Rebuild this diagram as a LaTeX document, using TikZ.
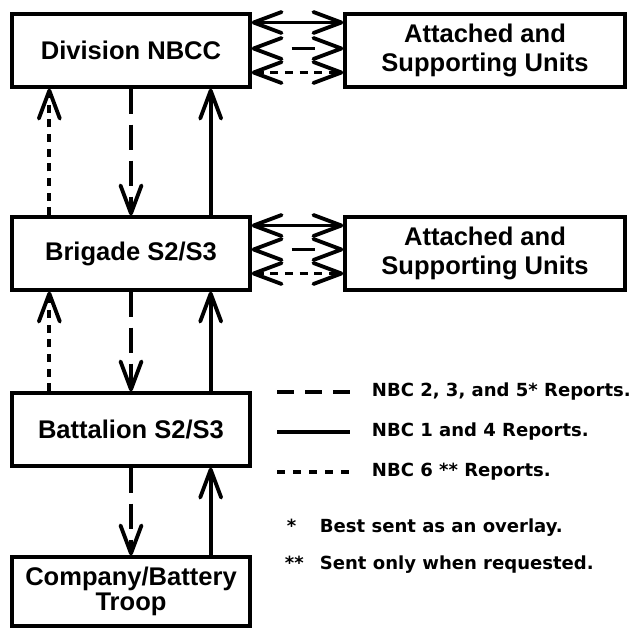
\documentclass[tikz,border=0pt]{standalone}
\usepackage{fontspec}
\setmainfont{Liberation Sans}
\newfontfamily\legendfont{DejaVu Sans}
\usetikzlibrary{arrows.meta,calc}

\begin{document}
\begin{tikzpicture}
        [
            x = 0.03cm, y = -0.03cm,
            line width = 0.115cm,
            > = {Straight Barb[length = 0.84cm, width = 0.63cm, round]},
            box/.style = {draw, line width = 0.1cm, inner sep = 0pt, align = center,
                    minimum width = 7.14cm, minimum height = 2.19cm,
                    font = \bfseries\fontsize{21.8}{24}\selectfont},
            unitbox/.style = {box, minimum width = 8.4cm},
            nbcone/.style = {line cap = round},
            nbctwo/.style = {dash pattern = on 0.75cm off 0.33cm},
            nbcsix/.style = {dash pattern = on 0.24cm off 0.2cm},
            legend/.style = {inner sep = 0pt, anchor = base west,
                    font = \legendfont\bfseries\fontsize{15.4}{17}\selectfont},
        ]

        \useasboundingbox (0,0) rectangle (634,628);

        \node[box] (div) at (131,50.5) {Division NBCC};
        \node[unitbox] (divunits) at (485,50.5) {Attached and\\[0.7pt]Supporting Units};
        \node[box] (brig) at (131,253.5) {Brigade S2/S3};
        \node[unitbox] (brigunits) at (485,253.5) {Attached and\\[0.7pt]Supporting Units};
        \node[box] (bat) at (131,429.5) {Battalion S2/S3};
        \node[box, minimum height = 2.07cm,
            font = \bfseries\fontsize{21.8}{21.3}\selectfont] (comp) at (131,591.5) {Company/Battery\\Troop};

        \draw[nbcone, <->] ($(div.east)+(0,-28)$) -- ($(divunits.west)+(0,-28)$);
        \draw[<->, dash pattern = on 0.69cm off 2.16cm, dash phase = 1.77cm]
            ($(div.east)+(0,-2)$) -- ($(divunits.west)+(0,-2)$);
        \draw[nbcsix, <->] ($(div.east)+(0,22)$) -- ($(divunits.west)+(0,22)$);

        \draw[nbcone, <->] ($(brig.east)+(0,-28)$) -- ($(brigunits.west)+(0,-28)$);
        \draw[<->, dash pattern = on 0.69cm off 2.16cm, dash phase = 1.77cm]
            ($(brig.east)+(0,-4)$) -- ($(brigunits.west)+(0,-4)$);
        \draw[nbcsix, <->] ($(brig.east)+(0,20)$) -- ($(brigunits.west)+(0,20)$);

        \draw[nbcsix, ->] ($(brig.north west)+(39,0)$) -- ($(div.south west)+(39,0)$);
        \draw[nbctwo, ->] (div.south) -- (brig.north);
        \draw[nbcone, ->] ($(brig.north east)+(-41,0)$) -- ($(div.south east)+(-41,0)$);

        \draw[nbcsix, ->] ($(bat.north west)+(39,0)$) -- ($(brig.south west)+(39,0)$);
        \draw[nbctwo, ->] (brig.south) -- (bat.north);
        \draw[nbcone, ->] ($(bat.north east)+(-41,0)$) -- ($(brig.south east)+(-41,0)$);

        \draw[nbctwo, ->] (bat.south) -- (comp.north);
        \draw[nbcone, ->] ($(comp.north east)+(-41,0)$) -- ($(bat.south east)+(-41,0)$);

        \node[legend] (lgtwo) at (370,397) {NBC 2, 3, and 5* Reports.};
        \node[legend] (lgone) at (370,437) {NBC 1 and 4 Reports.};
        \node[legend] (lgsix) at (370,477) {NBC 6 ** Reports.};
        \node[legend] (starone) at (285,533) {*};
        \node[legend] (noteone) at (318,533) {Best sent as an overlay.};
        \node[legend] (startwo) at (283,570) {**};
        \node[legend] (notetwo) at (318,570) {Sent only when requested.};

        \draw[dash pattern = on 0.51cm off 0.33cm] ($(lgtwo.west)+(-93,0)$) -- ($(lgtwo.west)+(-20,0)$);
        \draw[] ($(lgone.west)+(-93,0)$) -- ($(lgone.west)+(-20,0)$);
        \draw[dash pattern = on 0.24cm off 0.24cm] ($(lgsix.west)+(-93,0)$) -- ($(lgsix.west)+(-20,0)$);

    \end{tikzpicture}
\end{document}
